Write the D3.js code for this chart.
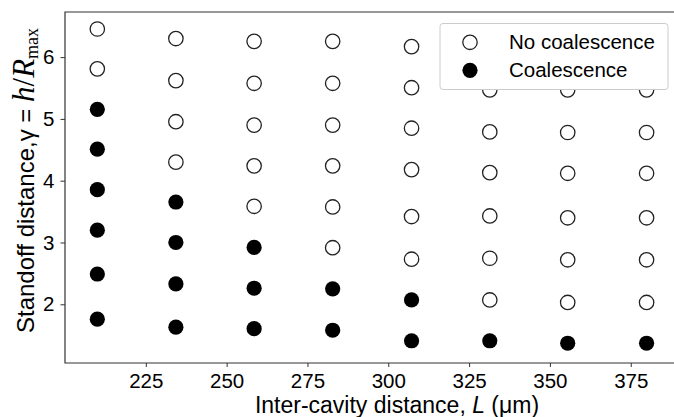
<!DOCTYPE html>
<html>
<head>
<meta charset="UTF-8">
<title>Coalescence map</title>
<style>
  body { margin: 0; background: #fff; }
  svg { display: block; }
  text { font-family: "Liberation Sans", Arial, sans-serif; fill: #000; }
</style>
<script src="https://d3js.org/d3.v7.min.js"></script>
</head>
<body>
<script>
// inter-cavity distance L (um), one entry per column
const cavityL = [210, 234.3, 258.5, 282.8, 307.2, 331.4, 355.5, 379.9];

// standoff distance gamma per column: no coalescence (open markers)
const gammaNoCoal = [
  [6.455, 5.81],
  [6.30, 5.62, 4.955, 4.30],
  [6.255, 5.576, 4.90, 4.24, 3.586],
  [6.255, 5.576, 4.90, 4.24, 3.575, 2.916],
  [6.17, 5.505, 4.85, 4.18, 3.42, 2.73],
  [5.47, 4.79, 4.13, 3.43, 2.745, 2.07],
  [5.47, 4.78, 4.12, 3.40, 2.72, 2.03],
  [5.47, 4.78, 4.12, 3.40, 2.72, 2.03]
];

// coalescence (filled markers)
const gammaCoal = [
  [5.155, 4.51, 3.855, 3.20, 2.49, 1.76],
  [3.655, 3.00, 2.33, 1.63],
  [2.92, 2.26, 1.605],
  [2.25, 1.58],
  [2.07, 1.41],
  [1.41],
  [1.37],
  [1.37]
];

const xTicks = [225, 250, 275, 300, 325, 350, 375];
const yTicks = [2, 3, 4, 5, 6];

const width = 674, height = 417;
const mLeft = 65, mTop = 12, mBottom = 363, mRight = 676;

const svg = d3.select("body").append("svg")
  .attr("width", width)
  .attr("height", height);

const x = d3.scaleLinear().domain([200, 389]).range([mLeft, mRight]);
const y = d3.scaleLinear().domain([1.05, 6.73]).range([mBottom, mTop]);

// flatten into points
const pts = [];
cavityL.forEach((L, i) => {
  gammaNoCoal[i].forEach(g => pts.push({L: L, g: g, coal: false}));
  gammaCoal[i].forEach(g => pts.push({L: L, g: g, coal: true}));
});

const r = 7.2;

svg.append("g").selectAll("circle")
  .data(pts)
  .enter().append("circle")
  .attr("cx", d => x(d.L))
  .attr("cy", d => y(d.g))
  .attr("r", d => d.coal ? r + 0.4 : r)
  .attr("fill", d => d.coal ? "#000" : "#fff")
  .attr("stroke", d => d.coal ? "none" : "#222")
  .attr("stroke-width", 1.3);

// axes
const xAxis = d3.axisBottom(x).tickValues(xTicks).tickFormat(d3.format("d")).tickSize(4).tickPadding(6);
const yAxis = d3.axisLeft(y).tickValues(yTicks).tickFormat(d3.format("d")).tickSize(4.5).tickPadding(6);

const gx = svg.append("g").attr("transform", `translate(0,${mBottom})`).call(xAxis);
const gy = svg.append("g").attr("transform", `translate(${mLeft},0)`).call(yAxis);

[gx, gy].forEach(g => {
  g.select(".domain").remove();
  g.selectAll(".tick line").attr("stroke", "#333").attr("stroke-width", 1);
  g.selectAll(".tick text")
    .attr("font-size", 20.5)
    .attr("font-family", "Liberation Sans, Arial, sans-serif")
    .attr("fill", "#000");
});

// frame (right side runs off the image)
svg.append("path")
  .attr("d", `M${mRight},${mTop}H${mLeft}V${mBottom}H${mRight}`)
  .attr("fill", "none")
  .attr("stroke", "#333")
  .attr("stroke-width", 1.2);

// axis labels
svg.append("text")
  .attr("x", 397)
  .attr("y", 413)
  .attr("text-anchor", "middle")
  .attr("font-size", 23)
  .call(t => {
    t.append("tspan").text("Inter-cavity distance, ");
    t.append("tspan").attr("font-style", "italic").text("L");
    t.append("tspan").text(" (μm)");
  });

const serif = "Liberation Serif, serif";
svg.append("text")
  .attr("transform", "translate(33.5,333) rotate(-90)")
  .attr("text-anchor", "start")
  .attr("font-size", 24)
  .call(t => {
    t.append("tspan").text("Standoff distance,γ = ");
    t.append("tspan").attr("font-family", serif).attr("font-style", "italic").attr("font-size", 31).text("h");
    t.append("tspan").attr("font-family", serif).attr("font-size", 31).text("/");
    t.append("tspan").attr("font-family", serif).attr("font-style", "italic").attr("font-size", 31).text("R");
    t.append("tspan").attr("font-family", serif).attr("font-size", 18).attr("dy", 4).text("max");
  });

// legend
const legend = svg.append("g");
legend.append("rect")
  .attr("x", 440).attr("y", 23.5)
  .attr("width", 228).attr("height", 66)
  .attr("rx", 3)
  .attr("fill", "#fff")
  .attr("stroke", "#ccc")
  .attr("stroke-width", 1);

const legendItems = [
  {label: "No coalescence", coal: false},
  {label: "Coalescence", coal: true}
];
legendItems.forEach((d, i) => {
  const cy = 42.3 + i * 28;
  legend.append("circle")
    .attr("cx", 470).attr("cy", cy)
    .attr("r", d.coal ? r + 0.4 : r)
    .attr("fill", d.coal ? "#000" : "#fff")
    .attr("stroke", d.coal ? "none" : "#222")
    .attr("stroke-width", 1.3);
  legend.append("text")
    .attr("x", 509).attr("y", cy + 7)
    .attr("font-size", 20.5)
    .text(d.label);
});
</script>
</body>
</html>
